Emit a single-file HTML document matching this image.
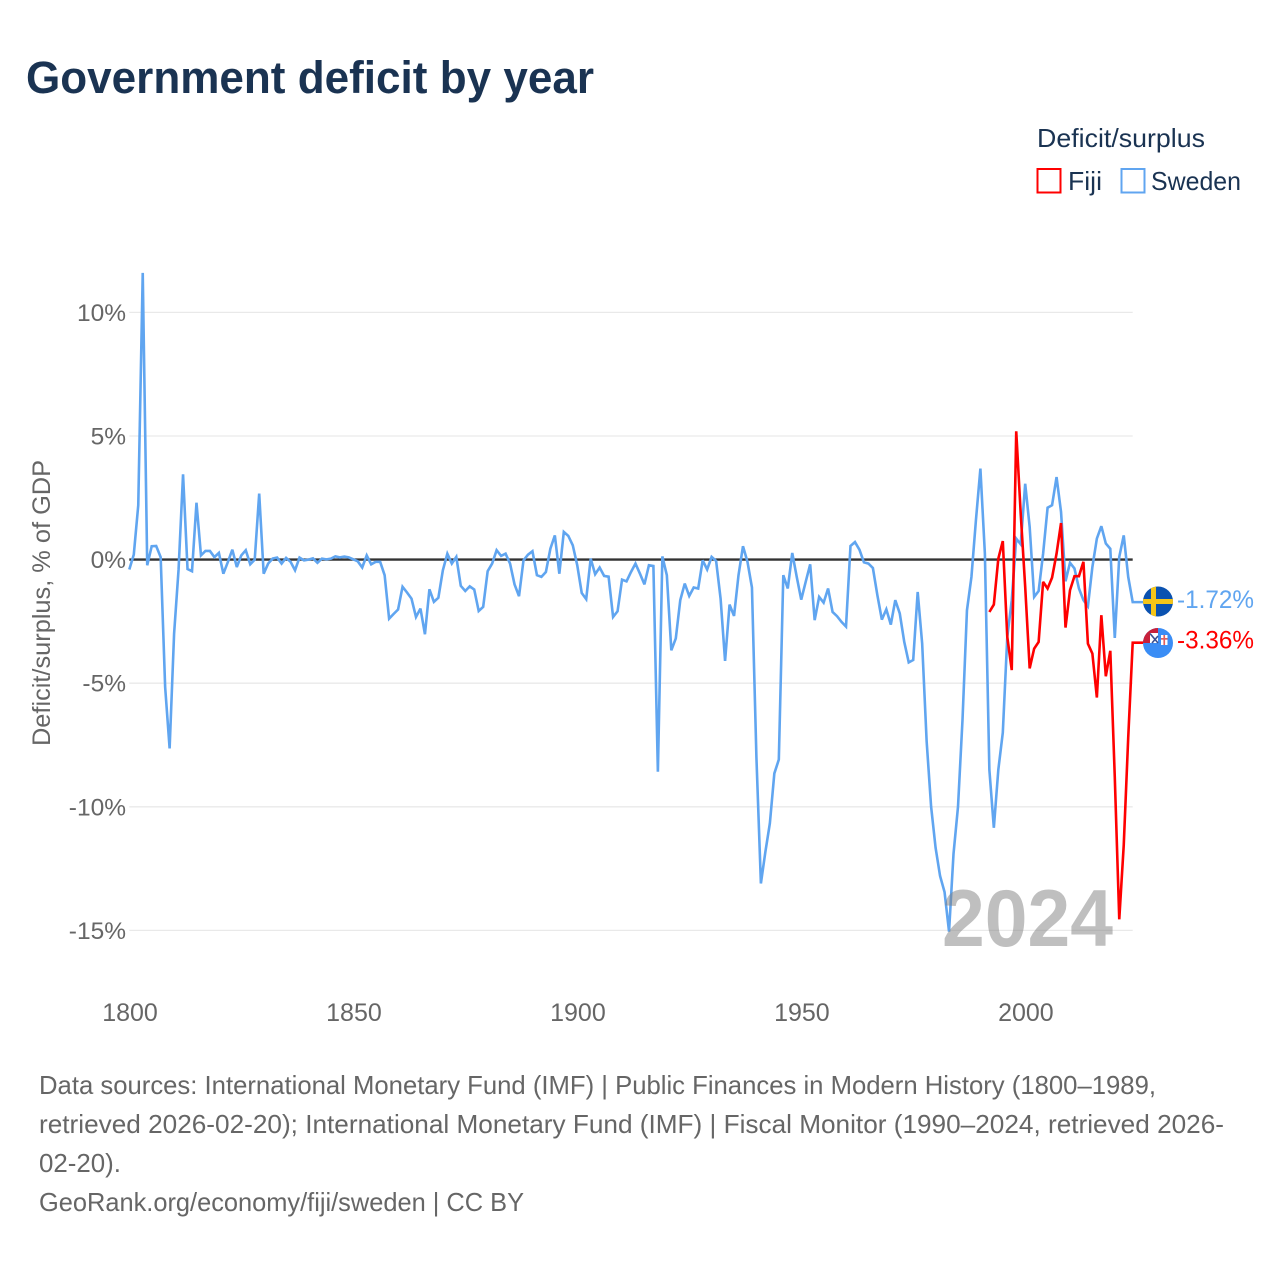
<!DOCTYPE html>
<html lang="en">
<head>
<meta charset="utf-8">
<title>Government deficit by year</title>
<style>
html,body{margin:0;padding:0;background:#fff;}
svg{display:block;font-family:"Liberation Sans",sans-serif;}
</style>
</head>
<body>
<svg id="chart" width="1280" height="1280" viewBox="0 0 1280 1280" xmlns="http://www.w3.org/2000/svg">
  <rect x="0" y="0" width="1280" height="1280" fill="#ffffff"/>
  <text x="26" y="93" font-size="45" font-weight="700" fill="#1a3352" textLength="568" lengthAdjust="spacingAndGlyphs">Government deficit by year</text>

  <g>
    <text x="1037" y="147" font-size="26" fill="#1a3352" textLength="168" lengthAdjust="spacingAndGlyphs">Deficit/surplus</text>
    <rect x="1037.5" y="169" width="23" height="23.5" fill="#fff" stroke="#ff0000" stroke-width="2"/>
    <text x="1068" y="190" font-size="26" fill="#1a3352" textLength="34" lengthAdjust="spacingAndGlyphs">Fiji</text>
    <rect x="1121.5" y="169" width="23" height="23.5" fill="#fff" stroke="#60a5f0" stroke-width="2"/>
    <text x="1151" y="190" font-size="26" fill="#1a3352" textLength="90" lengthAdjust="spacingAndGlyphs">Sweden</text>
  </g>

  <text transform="translate(50,603) rotate(-90)" text-anchor="middle" font-size="25" fill="#666666" textLength="286" lengthAdjust="spacingAndGlyphs">Deficit/surplus, % of GDP</text>

  <g id="grid"></g>
  <g id="yticks"></g>
  <g id="xticks"></g>
  <line id="zero" stroke="#333333" stroke-width="2.4"/>
  <g id="series"></g>

  <text x="942" y="946" font-size="81" font-weight="700" fill="#808080" fill-opacity="0.5" textLength="171" lengthAdjust="spacingAndGlyphs">2024</text>

  <defs>
    <clipPath id="clip-se"><circle cx="1158" cy="601.5" r="15"/></clipPath>
    <clipPath id="clip-fj"><circle cx="1158" cy="643" r="15"/></clipPath>
  </defs>
  <g clip-path="url(#clip-se)">
    <rect x="1143" y="586" width="30" height="31" fill="#0b52b0"/>
    <rect x="1143" y="599" width="30" height="5" fill="#f5c518"/>
    <rect x="1151" y="586" width="5" height="31" fill="#f5c518"/>
  </g>
  <g clip-path="url(#clip-fj)">
    <rect x="1143" y="628" width="30" height="30" fill="#3a8df5"/>
    <rect x="1143" y="628" width="15" height="15" fill="#c8203a"/>
    <rect x="1150" y="633" width="8" height="10" fill="#ffffff"/>
    <path d="M1150 633.5 L1158 643 M1158 636 L1152 643" stroke="#3b4f8f" stroke-width="1.6"/>
    <rect x="1161" y="635" width="6.5" height="10" fill="#ffffff"/>
    <rect x="1163.4" y="635" width="1.7" height="10" fill="#e06060"/>
    <rect x="1161" y="638" width="6.5" height="1.7" fill="#e06060"/>
  </g>

  <g font-size="26" fill="#666666">
    <text x="39" y="1094" textLength="1117" lengthAdjust="spacingAndGlyphs">Data sources: International Monetary Fund (IMF) | Public Finances in Modern History (1800–1989,</text>
    <text x="39" y="1133" textLength="1185" lengthAdjust="spacingAndGlyphs">retrieved 2026-02-20); International Monetary Fund (IMF) | Fiscal Monitor (1990–2024, retrieved 2026-</text>
    <text x="39" y="1172" textLength="82" lengthAdjust="spacingAndGlyphs">02-20).</text>
    <text x="39" y="1211" textLength="485" lengthAdjust="spacingAndGlyphs">GeoRank.org/economy/fiji/sweden | CC BY</text>
  </g>
</svg>
<script>
const yTickValues = [10, 5, 0, -5, -10, -15];
const xTickYears = [1800, 1850, 1900, 1950, 2000];
const swedenStartYear = 1800;
const swedenValues = [
-0.40,0.20,2.20,11.60,-0.23,0.54,0.55,0.10,-5.15,-7.64,
-3.00,-0.40,3.45,-0.38,-0.47,2.30,0.17,0.35,0.35,0.10,
0.27,-0.57,-0.10,0.40,-0.30,0.17,0.38,-0.19,0.00,2.67,
-0.57,-0.16,0.04,0.08,-0.16,0.07,-0.09,-0.43,0.08,-0.03,
0.00,0.05,-0.13,0.04,0.01,0.04,0.13,0.09,0.12,0.09,
0.01,-0.07,-0.32,0.17,-0.19,-0.09,-0.09,-0.63,-2.39,-2.20,
-2.02,-1.10,-1.33,-1.58,-2.32,-1.98,-3.02,-1.20,-1.71,-1.54,
-0.43,0.24,-0.16,0.11,-1.06,-1.27,-1.08,-1.21,-2.08,-1.91,
-0.47,-0.16,0.38,0.15,0.24,-0.16,-1.00,-1.48,-0.03,0.20,
0.34,-0.63,-0.70,-0.50,0.44,0.98,-0.57,1.12,0.96,0.58,
-0.23,-1.35,-1.60,0.04,-0.59,-0.32,-0.66,-0.69,-2.32,-2.09,
-0.81,-0.88,-0.50,-0.16,-0.57,-1.00,-0.23,-0.26,-8.58,0.13,
-0.63,-3.67,-3.19,-1.64,-0.97,-1.47,-1.13,-1.17,-0.03,-0.40,
0.11,-0.05,-1.58,-4.10,-1.82,-2.28,-0.63,0.54,-0.09,-1.13,
-8.00,-13.10,-11.82,-10.67,-8.65,-8.09,-0.63,-1.17,0.27,-0.70,
-1.62,-0.90,-0.19,-2.45,-1.51,-1.74,-1.17,-2.12,-2.29,-2.52,
-2.71,0.55,0.71,0.40,-0.11,-0.16,-0.34,-1.44,-2.43,-2.01,
-2.63,-1.64,-2.18,-3.33,-4.16,-4.06,-1.31,-3.40,-7.35,-10.00,
-11.66,-12.80,-13.45,-15.05,-11.90,-10.00,-6.50,-2.05,-0.70,1.59,
3.68,0.24,-8.50,-10.85,-8.50,-7.00,-3.13,-1.64,0.85,0.62,
3.07,1.32,-1.51,-1.27,0.24,2.10,2.20,3.34,1.93,-0.88,
-0.13,-0.36,-1.17,-1.64,-1.89,-0.30,0.85,1.35,0.65,0.44,
-3.17,0.11,0.98,-0.70,-1.72
];
const fijiStartYear = 1992;
const fijiValues = [
-2.12,-1.82,0.04,0.75,-3.13,-4.47,5.19,1.86,-1.10,-4.40,
-3.60,-3.33,-0.90,-1.17,-0.73,0.24,1.48,-2.75,-1.24,-0.67,
-0.67,-0.09,-3.40,-3.80,-5.58,-2.25,-4.72,-3.69,-8.80,-14.55,
-11.55,-7.20,-3.36
];
const swedenColor = "#60a5f0";
const fijiColor = "#ff0000";

const svgNS = "http://www.w3.org/2000/svg";
const plotLeft = 129.3, plotRight = 1132.7;
function xScale(year) { return plotLeft + (year - 1800) * (plotRight - plotLeft) / 224; }
function yScale(value) { return 559.6 - value * 24.72; }

const grid = document.getElementById("grid");
const yticks = document.getElementById("yticks");
yTickValues.forEach(function (v) {
  if (v !== 0) {
    const g = document.createElementNS(svgNS, "line");
    
    
    g.setAttribute("x1", plotLeft);
    g.setAttribute("x2", plotRight);
    g.setAttribute("y1", yScale(v));
    g.setAttribute("y2", yScale(v));
    g.setAttribute("stroke", "#e9e9e9");
    g.setAttribute("stroke-width", "1.3");
    grid.appendChild(g);
  }
  const t = document.createElementNS(svgNS, "text");
  
  
  t.setAttribute("x", 126);
  t.setAttribute("y", yScale(v) + 8.5);
  t.setAttribute("text-anchor", "end");
  t.setAttribute("font-size", "24.5");
  t.setAttribute("fill", "#666666");
  t.textContent = v + "%";
  yticks.appendChild(t);
});

const xticks = document.getElementById("xticks");
xTickYears.forEach(function (yr) {
  const t = document.createElementNS(svgNS, "text");
  
  
  t.setAttribute("x", xScale(yr) + 0.7);
  t.setAttribute("y", 1021);
  t.setAttribute("text-anchor", "middle");
  t.setAttribute("font-size", "25");
  t.setAttribute("fill", "#666666");
  t.textContent = yr;
  xticks.appendChild(t);
});

const zero = document.getElementById("zero");
zero.setAttribute("x1", plotLeft);
zero.setAttribute("x2", plotRight);
zero.setAttribute("y1", yScale(0));
zero.setAttribute("y2", yScale(0));

const series = document.getElementById("series");
function drawSeries(startYear, values, color) {
  const pts = values.map(function (v, i) {
    return xScale(startYear + i).toFixed(2) + "," + yScale(v).toFixed(2);
  });
  const last = values[values.length - 1];
  pts.push((xScale(startYear + values.length - 1) + 12).toFixed(2) + "," + yScale(last).toFixed(2));
  const line = document.createElementNS(svgNS, "polyline");
  
  
  line.setAttribute("points", pts.join(" "));
  line.setAttribute("fill", "none");
  line.setAttribute("stroke", color);
  line.setAttribute("stroke-width", "2.6");
  line.setAttribute("stroke-linejoin", "miter");
  line.setAttribute("stroke-miterlimit", "3");
  series.appendChild(line);
  const label = document.createElementNS(svgNS, "text");
  
  
  label.setAttribute("x", 1177);
  label.setAttribute("y", yScale(last) + 6);
  label.setAttribute("font-size", "25");
  label.setAttribute("fill", color);
  label.setAttribute("textLength", "77");
  label.setAttribute("lengthAdjust", "spacingAndGlyphs");
  label.textContent = last.toFixed(2) + "%";
  document.getElementById("chart").appendChild(label);
}
drawSeries(swedenStartYear, swedenValues, swedenColor);
drawSeries(fijiStartYear, fijiValues, fijiColor);
</script>
</body>
</html>
